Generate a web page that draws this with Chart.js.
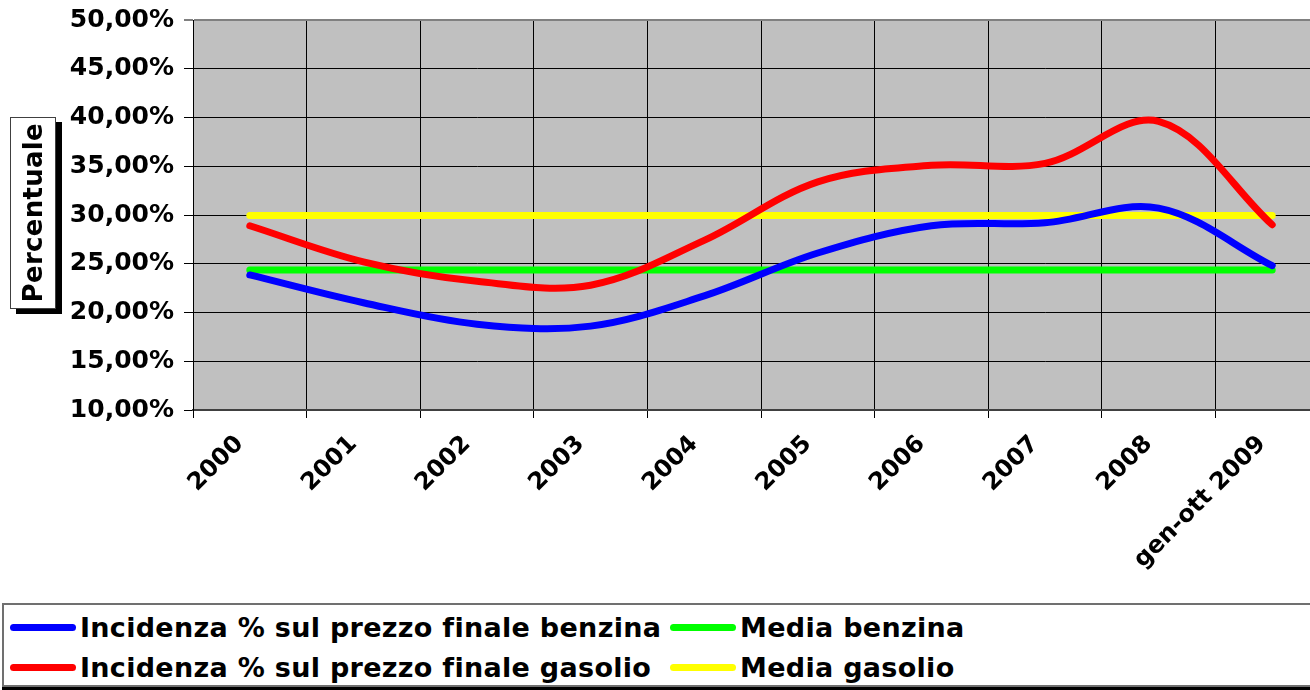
<!DOCTYPE html>
<html>
<head>
<meta charset="utf-8">
<script src="https://cdn.jsdelivr.net/npm/chart.js@4.4.0/dist/chart.umd.min.js"></script>
<style>
  html, body { margin: 0; padding: 0; background: #fff; overflow: hidden; }
  body { width: 1310px; height: 690px; position: relative; font-family: "DejaVu Sans", Verdana, sans-serif; }
  #chart { position: absolute; left: 0; top: 0; }
  #yTitle {
    position: absolute; left: 10px; top: 117px; width: 44px; height: 190px;
    border: 1px solid #404040; background: #fff; box-shadow: 6px 5px 0 #000;
    display: flex; align-items: center; justify-content: center;
  }
  #yTitle span {
    writing-mode: vertical-rl; transform: rotate(180deg);
    font-weight: bold; font-size: 26px; color: #000; letter-spacing: 0.3px;
  }
  #legend {
    position: absolute; left: 2px; top: 603px; width: 1340px; height: 80px;
    border: 2px solid #707070; box-shadow: 0 3px 0 #000; background: #fff;
  }
  .item { position: absolute; display: flex; align-items: center; height: 40px; }
  .item i { display: inline-block; width: 66px; height: 7px; border-radius: 4px; margin-right: 4px; }
  .item b { font-size: 27px; color: #000; white-space: nowrap; letter-spacing: 0.3px; }
</style>
</head>
<body>
<canvas id="chart" width="1330" height="600"></canvas>
<div id="yTitle"><span>Percentuale</span></div>
<div id="legend"></div>
<script>
// categories on the x axis
const anni = ["2000", "2001", "2002", "2003", "2004", "2005", "2006", "2007", "2008", "gen-ott 2009"];

// incidenza % sul prezzo finale
const benzina = [23.85, 21.0, 18.8, 18.6, 21.7, 26.1, 28.9, 29.2, 30.7, 24.8];
const gasolio = [28.9, 25.2, 23.2, 22.8, 27.4, 33.4, 35.1, 35.3, 39.6, 29.0];

// averages
const mediaBenzina = [24.37, 24.37, 24.37, 24.37, 24.37, 24.37, 24.37, 24.37, 24.37, 24.37];
const mediaGasolio = [29.95, 29.95, 29.95, 29.95, 29.95, 29.95, 29.95, 29.95, 29.95, 29.95];

const nomi = [
  "Incidenza % sul prezzo finale benzina",
  "Media benzina",
  "Incidenza % sul prezzo finale gasolio",
  "Media gasolio"
];
const colori = ["#0000ff", "#00ff00", "#ff0000", "#ffff00"];

Chart.defaults.font.family = "'DejaVu Sans', Verdana, sans-serif";
Chart.defaults.font.weight = "bold";
Chart.defaults.font.size = 24;
Chart.defaults.color = "#000";

// gray plot background
const plotBg = {
  id: "plotBg",
  beforeDraw(chart) {
    const { ctx, chartArea: a } = chart;
    ctx.save();
    ctx.fillStyle = "#c0c0c0";
    ctx.fillRect(a.left, a.top, a.right - a.left, a.bottom - a.top);
    ctx.restore();
  }
};

function serie(label, data, color, smooth) {
  return {
    label: label,
    data: data,
    borderColor: color,
    backgroundColor: color,
    borderWidth: 7,
    borderCapStyle: "round",
    borderJoinStyle: "round",
    pointRadius: 0,
    pointHoverRadius: 0,
    tension: smooth ? 0.35 : 0,
    fill: false
  };
}

const chart = new Chart(document.getElementById("chart"), {
  type: "line",
  data: {
    labels: anni,
    // drawing order: yellow and green on top as in the reference
    datasets: [
      serie(nomi[0], benzina, colori[0], true),
      serie(nomi[2], gasolio, colori[2], true),
      serie(nomi[1], mediaBenzina, colori[1], false),
      serie(nomi[3], mediaGasolio, colori[3], false)
    ]
  },
  options: {
    responsive: false,
    animation: false,
    layout: { padding: { top: 20, right: 1, bottom: 0, left: 0 } },
    plugins: { legend: { display: false }, tooltip: { enabled: false } },
    scales: {
      x: {
        offset: true,
        grid: { offset: true, color: "#000", lineWidth: 1, tickLength: 8 },
        border: { color: "#404040", width: 2 },
        ticks: { maxRotation: 45, minRotation: 45, autoSkip: false, padding: 12, labelOffset: -10 },
        afterFit: s => { s.height = 190; }
      },
      y: {
        min: 10,
        max: 50,
        grid: {
          color: c => (c.tick && c.tick.value === 50 ? "#808080" : "#000"),
          lineWidth: c => (c.tick && c.tick.value === 50 ? 2 : 1),
          tickLength: 9
        },
        border: { color: "#000", width: 1 },
        ticks: {
          stepSize: 5,
          padding: 10,
          font: { size: 25 },
          callback: v => v.toFixed(2).replace(".", ",") + "%"
        },
        afterFit: s => { s.width = 193; s.paddingTop = 0; s.paddingBottom = 0; }
      }
    }
  },
  plugins: [plotBg]
});

// legend in two columns, like the original
const legend = document.getElementById("legend");
const pos = [[6, 2], [666, 2], [6, 42], [666, 42]];
nomi.forEach((n, i) => {
  const el = document.createElement("div");
  el.className = "item";
  el.style.left = pos[i][0] + "px";
  el.style.top = pos[i][1] + "px";
  el.innerHTML = `<i style="background:${colori[i]}"></i><b>${n}</b>`;
  legend.appendChild(el);
});
</script>
</body>
</html>
